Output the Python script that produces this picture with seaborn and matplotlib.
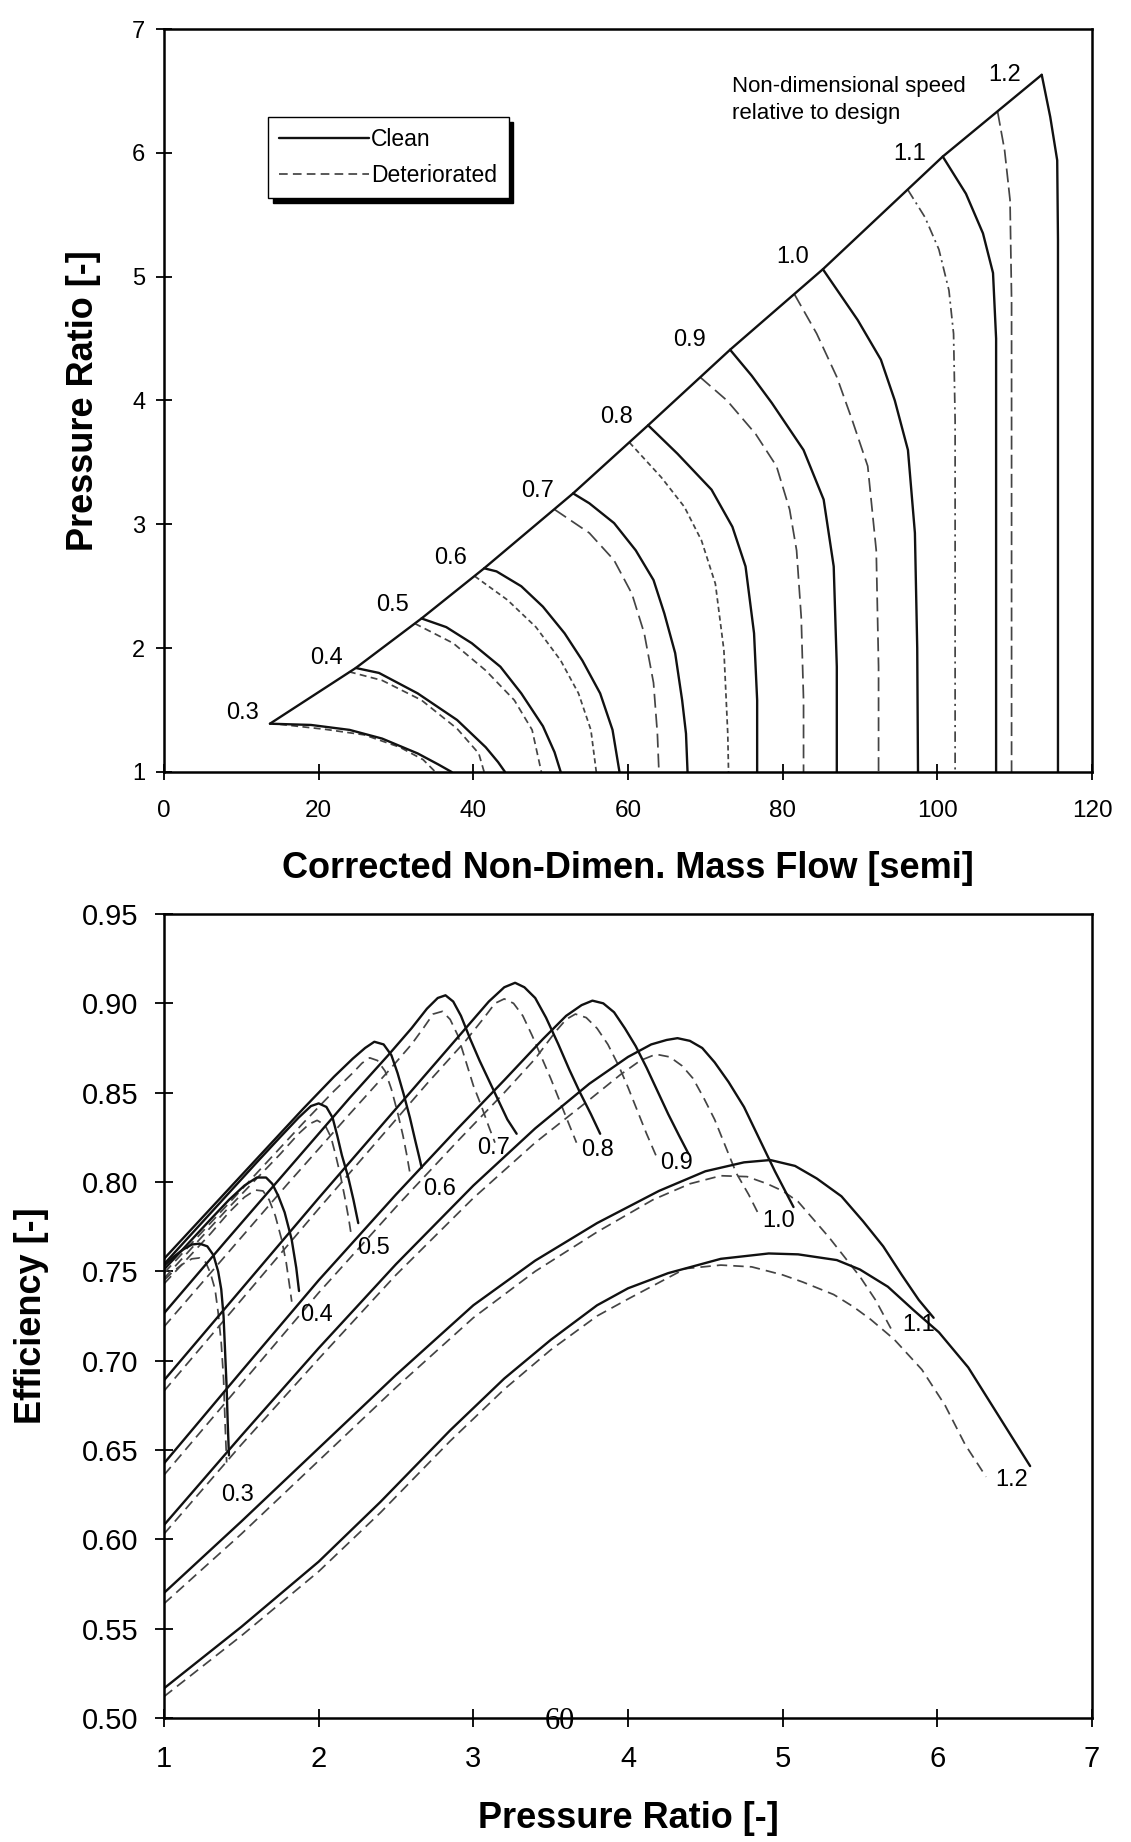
import matplotlib
matplotlib.use("Agg")
import matplotlib.pyplot as plt
from matplotlib.lines import Line2D
from matplotlib.ticker import FormatStrFormatter
import numpy as np
import pandas as pd
import seaborn as sns

# ---------------------------------------------------------------------------
# Speed lines (non-dimensional speed relative to design)
# ---------------------------------------------------------------------------
speeds = ["0.3", "0.4", "0.5", "0.6", "0.7", "0.8", "0.9", "1.0", "1.1", "1.2"]

# Compressor map: (corrected non-dimensional mass flow, pressure ratio)
map_clean_03 = [(13.7, 1.39), (19.0, 1.38), (24.0, 1.34), (28.2, 1.27), (32.8, 1.15), (35.5, 1.06), (37.2, 1.0)]
map_clean_04 = [(24.8, 1.84), (27.8, 1.80), (32.8, 1.635), (37.9, 1.42), (41.6, 1.20), (43.2, 1.08), (44.1, 1.0)]
map_clean_05 = [(33.3, 2.24), (36.5, 2.17), (39.8, 2.04), (43.5, 1.85), (46.2, 1.635), (49.0, 1.37), (50.5, 1.16), (51.3, 1.0)]
map_clean_06 = [(41.4, 2.645), (43.0, 2.62), (46.2, 2.50), (49.0, 2.335), (51.8, 2.12), (54.1, 1.90), (56.4, 1.635), (58.0, 1.34), (58.9, 1.0)]
map_clean_07 = [(52.9, 3.25), (55.0, 3.17), (58.2, 3.01), (61.0, 2.79), (63.3, 2.55), (64.7, 2.28), (66.1, 1.96), (67.0, 1.58), (67.5, 1.31), (67.7, 1.0)]
map_clean_08 = [(62.6, 3.80), (66.4, 3.57), (70.8, 3.28), (73.5, 2.98), (75.2, 2.66), (76.3, 2.12), (76.7, 1.58), (76.7, 1.0)]
map_clean_09 = [(73.2, 4.41), (76.0, 4.20), (78.6, 3.98), (82.7, 3.60), (85.3, 3.20), (86.6, 2.66), (87.0, 1.85), (87.0, 1.0)]
map_clean_10 = [(85.2, 5.06), (89.7, 4.65), (92.7, 4.33), (94.5, 4.0), (96.2, 3.6), (97.1, 2.93), (97.4, 2.0), (97.5, 1.0)]
map_clean_11 = [(100.7, 5.97), (103.7, 5.67), (105.9, 5.35), (107.2, 5.03), (107.6, 4.5), (107.6, 1.0)]
map_clean_12 = [(113.5, 6.63), (114.6, 6.29), (115.5, 5.94), (115.6, 5.3), (115.6, 1.0)]

map_det_03 = [(15.0, 1.385), (20.8, 1.345), (25.9, 1.30), (30.5, 1.20), (33.5, 1.10), (35.1, 1.0)]
map_det_04 = [(23.9, 1.81), (28.2, 1.74), (33.3, 1.58), (37.9, 1.35), (40.7, 1.15), (41.4, 1.0)]
map_det_05 = [(32.4, 2.20), (37.4, 2.04), (41.6, 1.82), (45.3, 1.58), (47.6, 1.34), (48.8, 1.0)]
map_det_06 = [(40.2, 2.58), (44.4, 2.39), (48.1, 2.17), (51.3, 1.90), (53.6, 1.635), (55.2, 1.34), (55.9, 1.0)]
map_det_07 = [(50.5, 3.12), (55.0, 2.93), (58.2, 2.71), (60.5, 2.44), (62.1, 2.12), (63.3, 1.72), (63.8, 1.31), (64.0, 1.0)]
map_det_08 = [(60.2, 3.66), (64.3, 3.38), (67.3, 3.14), (69.5, 2.87), (71.3, 2.52), (72.4, 1.985), (72.9, 1.31), (73.0, 1.0)]
map_det_09 = [(69.3, 4.19), (72.8, 4.0), (76.5, 3.73), (79.2, 3.47), (80.9, 3.12), (81.8, 2.79), (82.4, 2.25), (82.7, 1.58), (82.7, 1.0)]
map_det_10 = [(81.5, 4.86), (84.4, 4.54), (87.0, 4.19), (89.0, 3.84), (91.0, 3.47), (92.1, 2.79), (92.4, 1.85), (92.4, 1.0)]
map_det_11 = [(96.2, 5.70), (98.4, 5.48), (100.2, 5.22), (101.5, 4.89), (102.1, 4.54), (102.3, 3.84), (102.3, 1.0)]
map_det_12 = [(107.8, 6.33), (108.7, 6.02), (109.4, 5.62), (109.6, 4.81), (109.6, 1.0)]

# Efficiency characteristic: (pressure ratio, isentropic efficiency)
eff_clean_03 = [(1.00, 0.753), (1.06, 0.758), (1.12, 0.762), (1.18, 0.765), (1.23, 0.7655), (1.28, 0.764), (1.32, 0.759),
                (1.35, 0.750), (1.37, 0.740), (1.385, 0.725), (1.395, 0.705), (1.405, 0.685), (1.412, 0.665), (1.42, 0.647)]
eff_clean_04 = [(1.00, 0.751), (1.15, 0.765), (1.30, 0.779), (1.42, 0.790), (1.52, 0.798), (1.60, 0.8025), (1.66, 0.8025),
                (1.70, 0.799), (1.74, 0.792), (1.78, 0.783), (1.825, 0.768), (1.855, 0.752), (1.873, 0.739)]
eff_clean_05 = [(1.00, 0.754), (1.20, 0.773), (1.40, 0.792), (1.60, 0.811), (1.75, 0.825), (1.87, 0.836), (1.95, 0.8425),
                (2.00, 0.844), (2.05, 0.842), (2.09, 0.836), (2.12, 0.826), (2.15, 0.815), (2.19, 0.803), (2.225, 0.790), (2.256, 0.777)]
eff_clean_06 = [(1.00, 0.757), (1.30, 0.785), (1.60, 0.813), (1.90, 0.841), (2.10, 0.859), (2.22, 0.869), (2.30, 0.875),
                (2.36, 0.8785), (2.42, 0.877), (2.47, 0.871), (2.51, 0.861), (2.55, 0.849), (2.59, 0.836), (2.625, 0.823),
                (2.65, 0.814), (2.666, 0.808)]
eff_clean_07 = [(1.00, 0.7265), (1.40, 0.767), (1.80, 0.807), (2.20, 0.847), (2.45, 0.871), (2.60, 0.886), (2.70, 0.897),
                (2.77, 0.903), (2.82, 0.9045), (2.87, 0.901), (2.92, 0.893), (2.98, 0.880), (3.04, 0.868), (3.10, 0.857),
                (3.16, 0.846), (3.22, 0.835), (3.28, 0.827)]
eff_clean_08 = [(1.00, 0.689), (1.50, 0.740), (2.00, 0.791), (2.40, 0.831), (2.70, 0.861), (2.95, 0.886), (3.10, 0.901),
                (3.20, 0.909), (3.27, 0.9115), (3.33, 0.909), (3.40, 0.903), (3.47, 0.892), (3.55, 0.877), (3.62, 0.863),
                (3.69, 0.850), (3.76, 0.838), (3.82, 0.827)]
eff_clean_09 = [(1.00, 0.6425), (1.50, 0.694), (2.00, 0.745), (2.50, 0.793), (2.90, 0.830), (3.20, 0.857), (3.45, 0.880),
                (3.60, 0.893), (3.70, 0.899), (3.77, 0.9015), (3.84, 0.900), (3.91, 0.895), (3.98, 0.886), (4.05, 0.876),
                (4.12, 0.864), (4.19, 0.851), (4.26, 0.838), (4.33, 0.826), (4.39, 0.816)]
eff_clean_10 = [(1.00, 0.608), (1.50, 0.658), (2.00, 0.707), (2.50, 0.754), (3.00, 0.798), (3.40, 0.830), (3.75, 0.855),
                (4.00, 0.870), (4.15, 0.877), (4.25, 0.8795), (4.32, 0.8805), (4.40, 0.879), (4.48, 0.875), (4.56, 0.867),
                (4.65, 0.856), (4.75, 0.842), (4.85, 0.824), (4.95, 0.806), (5.07, 0.786)]
eff_clean_11 = [(1.00, 0.570), (1.50, 0.610), (2.00, 0.651), (2.50, 0.692), (3.00, 0.731), (3.40, 0.756), (3.80, 0.777),
                (4.20, 0.795), (4.50, 0.806), (4.75, 0.811), (4.92, 0.8123), (5.08, 0.809), (5.22, 0.802), (5.38, 0.792),
                (5.52, 0.778), (5.65, 0.764), (5.77, 0.748), (5.88, 0.734), (5.976, 0.724)]
eff_clean_12 = [(1.00, 0.5166), (1.50, 0.551), (2.00, 0.5875), (2.40, 0.621), (2.85, 0.661), (3.20, 0.690), (3.50, 0.7116),
                (3.80, 0.731), (4.00, 0.7405), (4.26, 0.749), (4.60, 0.757), (4.91, 0.760), (5.10, 0.7595), (5.35, 0.7563),
                (5.50, 0.751), (5.68, 0.7414), (5.85, 0.728), (6.01, 0.7159), (6.20, 0.6962), (6.40, 0.6686), (6.60, 0.641)]

eff_det_03 = [(1.00, 0.745), (1.06, 0.750), (1.12, 0.754), (1.18, 0.757), (1.23, 0.7575), (1.27, 0.755), (1.30, 0.749),
              (1.33, 0.740), (1.35, 0.727), (1.37, 0.71), (1.385, 0.69), (1.395, 0.665), (1.405, 0.643)]
eff_det_04 = [(1.00, 0.743), (1.15, 0.757), (1.30, 0.771), (1.42, 0.783), (1.52, 0.7915), (1.59, 0.7955), (1.64, 0.795),
              (1.68, 0.790), (1.72, 0.781), (1.76, 0.768), (1.79, 0.755), (1.81, 0.743), (1.826, 0.733)]
eff_det_05 = [(1.00, 0.746), (1.20, 0.765), (1.40, 0.784), (1.60, 0.802), (1.75, 0.8155), (1.87, 0.827), (1.94, 0.8325),
              (1.99, 0.8345), (2.04, 0.832), (2.08, 0.825), (2.11, 0.815), (2.14, 0.804), (2.17, 0.791), (2.195, 0.779), (2.213, 0.769)]
eff_det_06 = [(1.00, 0.749), (1.30, 0.777), (1.60, 0.805), (1.90, 0.833), (2.10, 0.851), (2.22, 0.861), (2.28, 0.8665),
              (2.33, 0.8695), (2.38, 0.868), (2.43, 0.862), (2.47, 0.852), (2.51, 0.839), (2.545, 0.826), (2.57, 0.815), (2.59, 0.805)]
eff_det_07 = [(1.00, 0.719), (1.40, 0.759), (1.80, 0.799), (2.20, 0.838), (2.45, 0.862), (2.60, 0.877), (2.68, 0.8865),
              (2.74, 0.894), (2.80, 0.8955), (2.85, 0.891), (2.90, 0.882), (2.95, 0.868), (3.00, 0.854), (3.05, 0.843),
              (3.10, 0.831), (3.14, 0.822)]
eff_det_08 = [(1.00, 0.683), (1.50, 0.734), (2.00, 0.785), (2.40, 0.825), (2.70, 0.855), (2.95, 0.879), (3.07, 0.892),
              (3.14, 0.900), (3.20, 0.9025), (3.26, 0.900), (3.32, 0.893), (3.38, 0.882), (3.44, 0.870), (3.50, 0.858),
              (3.56, 0.845), (3.62, 0.832), (3.667, 0.822)]
eff_det_09 = [(1.00, 0.636), (1.50, 0.687), (2.00, 0.738), (2.50, 0.786), (2.90, 0.823), (3.20, 0.850), (3.40, 0.869),
              (3.53, 0.884), (3.60, 0.891), (3.66, 0.894), (3.73, 0.892), (3.80, 0.886), (3.87, 0.877), (3.94, 0.865),
              (4.00, 0.853), (4.06, 0.840), (4.12, 0.827), (4.185, 0.814)]
eff_det_10 = [(1.00, 0.603), (1.50, 0.653), (2.00, 0.701), (2.50, 0.748), (3.00, 0.791), (3.40, 0.822), (3.75, 0.846),
              (3.95, 0.860), (4.08, 0.868), (4.18, 0.8715), (4.27, 0.870), (4.35, 0.865), (4.42, 0.858), (4.49, 0.847),
              (4.56, 0.835), (4.63, 0.820), (4.70, 0.805), (4.78, 0.793), (4.85, 0.781)]
eff_det_11 = [(1.00, 0.564), (1.50, 0.603), (2.00, 0.644), (2.50, 0.685), (3.00, 0.724), (3.40, 0.750), (3.80, 0.772),
              (4.16, 0.790), (4.40, 0.799), (4.60, 0.8035), (4.77, 0.803), (4.90, 0.799), (5.00, 0.795), (5.10, 0.789),
              (5.20, 0.779), (5.30, 0.769), (5.40, 0.758), (5.50, 0.747), (5.60, 0.734), (5.70, 0.718)]
eff_det_12 = [(1.00, 0.512), (1.50, 0.546), (2.00, 0.582), (2.40, 0.615), (2.85, 0.655), (3.20, 0.684), (3.50, 0.706),
              (3.80, 0.725), (4.00, 0.7345), (4.37, 0.7515), (4.60, 0.7535), (4.80, 0.7525), (5.00, 0.748), (5.13, 0.744),
              (5.33, 0.737), (5.46, 0.730), (5.57, 0.723), (5.72, 0.712), (5.90, 0.695), (6.05, 0.675), (6.18, 0.653), (6.315, 0.635)]

# Speed label anchors
map_label_pos = [(10.2, 1.474), (21.05, 1.918), (29.6, 2.349), (37.1, 2.728), (48.3, 3.272),
                 (58.45, 3.869), (68.0, 4.489), (81.3, 5.161), (96.4, 5.991), (108.7, 6.629)]
eff_label_pos = [(1.474, 0.6248), (1.987, 0.7255), (2.353, 0.763), (2.78, 0.796), (3.129, 0.819),
                 (3.80, 0.818), (4.313, 0.8105), (4.975, 0.778), (5.876, 0.7198), (6.479, 0.633)]

flow_ticks = [0, 20, 40, 60, 80, 100, 120]
pr_ticks = [1, 2, 3, 4, 5, 6, 7]
eff_ticks = [0.50, 0.55, 0.60, 0.65, 0.70, 0.75, 0.80, 0.85, 0.90, 0.95]

map_clean = dict(zip(speeds, [map_clean_03, map_clean_04, map_clean_05, map_clean_06, map_clean_07,
                              map_clean_08, map_clean_09, map_clean_10, map_clean_11, map_clean_12]))
map_det = dict(zip(speeds, [map_det_03, map_det_04, map_det_05, map_det_06, map_det_07,
                            map_det_08, map_det_09, map_det_10, map_det_11, map_det_12]))
eff_clean = dict(zip(speeds, [eff_clean_03, eff_clean_04, eff_clean_05, eff_clean_06, eff_clean_07,
                              eff_clean_08, eff_clean_09, eff_clean_10, eff_clean_11, eff_clean_12]))
eff_det = dict(zip(speeds, [eff_det_03, eff_det_04, eff_det_05, eff_det_06, eff_det_07,
                            eff_det_08, eff_det_09, eff_det_10, eff_det_11, eff_det_12]))

# ---------------------------------------------------------------------------
# Styling
# ---------------------------------------------------------------------------
CLEAN = "#111111"
DET = "#444444"
LW_CLEAN = 1.7
LW_DET = 1.25
top_dashes = {"0.3": (4, 2.5), "0.4": (4, 2.5), "0.5": (4, 2.5), "0.6": (3, 2), "0.7": (8, 3.5),
              "0.8": (3, 2), "0.9": (8, 3.5), "1.0": (8, 3.5), "1.1": (6, 2.5, 1.2, 2.5), "1.2": (8, 3)}
bottom_dashes = {s: (6, 3.5) for s in speeds}

sns.set_theme(style="white")
plt.rcParams["font.family"] = ["Liberation Sans", "DejaVu Sans"]
plt.rcParams["text.color"] = "black"
plt.rcParams["axes.labelcolor"] = "black"
plt.rcParams["xtick.color"] = "black"
plt.rcParams["ytick.color"] = "black"


def long_form(lines, xname, yname):
    frames = []
    for spd, pts in lines.items():
        arr = np.asarray(pts, dtype=float)
        frames.append(pd.DataFrame({"speed": spd, "step": np.arange(len(arr)),
                                    xname: arr[:, 0], yname: arr[:, 1]}))
    return pd.concat(frames, ignore_index=True)


df_map_clean = long_form(map_clean, "flow", "pr")
df_map_det = long_form(map_det, "flow", "pr")
df_eff_clean = long_form(eff_clean, "pr", "eff")
df_eff_det = long_form(eff_det, "pr", "eff")
surge = pd.DataFrame({"flow": [pts[0][0] for pts in map_clean.values()],
                      "pr": [pts[0][1] for pts in map_clean.values()]})

W, H = 1131, 1842
fig = plt.figure(figsize=(W / 100, H / 100), dpi=100)
fig.patch.set_facecolor("white")
ax1 = fig.add_axes([164 / W, 1 - 772 / H, 928 / W, 743 / H])
ax2 = fig.add_axes([164 / W, 1 - 1718 / H, 928 / W, 804 / H])

# ---- compressor map -------------------------------------------------------
sns.lineplot(data=df_map_det, x="flow", y="pr", style="speed", dashes=top_dashes,
             color=DET, linewidth=LW_DET, estimator=None, sort=False, legend=False, ax=ax1)
sns.lineplot(data=df_map_clean, x="flow", y="pr", units="speed", color=CLEAN,
             linewidth=LW_CLEAN, estimator=None, sort=False, legend=False, ax=ax1)
sns.lineplot(data=surge, x="flow", y="pr", color=CLEAN, linewidth=LW_CLEAN,
             estimator=None, sort=False, legend=False, ax=ax1)

for spd, (lx, ly) in zip(speeds, map_label_pos):
    ax1.text(lx, ly, spd, fontsize=17, ha="center", va="center")
ax1.text(73.5, 6.427, "Non-dimensional speed\nrelative to design", fontsize=16,
         ha="left", va="center", linespacing=1.4)

ax1.set_xlim(0, 120)
ax1.set_ylim(1, 7)
ax1.set_xticks(flow_ticks)
ax1.set_yticks(pr_ticks)
ax1.set_xlabel("Corrected Non-Dimen. Mass Flow [semi]", fontsize=26, fontweight="bold", va="center")
ax1.set_ylabel("Pressure Ratio [-]", fontsize=26, fontweight="bold", va="center")
ax1.xaxis.set_label_coords(0.5, (772 - 869) / 743)
ax1.yaxis.set_label_coords((84 - 164) / 928, 0.5)
ax1.tick_params(direction="inout", length=11, width=1.3, color="black",
                bottom=True, left=True, top=False, right=False)
ax1.tick_params(axis="x", labelsize=17.5, pad=15)
ax1.tick_params(axis="y", labelsize=17, pad=8)

handles = [Line2D([], [], color=CLEAN, lw=LW_CLEAN),
           Line2D([], [], color=DET, lw=LW_DET, dashes=(5, 3))]
leg = ax1.legend(handles, ["Clean", "Deteriorated"], loc="upper left",
                 bbox_to_anchor=(0.112, 0.8816), borderaxespad=0, frameon=True,
                 fancybox=False, fontsize=16.5, handlelength=3.9, handletextpad=0.1,
                 borderpad=0.5, labelspacing=0.55,
                 shadow={"ox": 3.5, "oy": -3.5, "facecolor": "black", "edgecolor": "black", "alpha": 1})
leg.get_frame().set_edgecolor("black")
leg.get_frame().set_linewidth(1.0)
leg.get_frame().set_facecolor("white")
leg.get_frame().set_alpha(1)

# ---- efficiency characteristic -------------------------------------------
sns.lineplot(data=df_eff_det, x="pr", y="eff", style="speed", dashes=bottom_dashes,
             color=DET, linewidth=LW_DET, estimator=None, sort=False, legend=False, ax=ax2)
sns.lineplot(data=df_eff_clean, x="pr", y="eff", units="speed", color=CLEAN,
             linewidth=LW_CLEAN, estimator=None, sort=False, legend=False, ax=ax2)

for spd, (lx, ly) in zip(speeds, eff_label_pos):
    ax2.text(lx, ly, spd, fontsize=17, ha="center", va="center")

ax2.set_xlim(1, 7)
ax2.set_ylim(0.50, 0.95)
ax2.set_xticks(pr_ticks)
ax2.set_yticks(eff_ticks)
ax2.yaxis.set_major_formatter(FormatStrFormatter("%.2f"))
ax2.set_xlabel("Pressure Ratio [-]", fontsize=26, fontweight="bold", va="center")
ax2.set_ylabel("Efficiency [-]", fontsize=26, fontweight="bold", va="center")
ax2.xaxis.set_label_coords(0.5, (1718 - 1818) / 804)
ax2.yaxis.set_label_coords((31.5 - 164) / 928, 0.5)
ax2.tick_params(direction="inout", length=13, width=1.3, color="black",
                bottom=True, left=True, top=False, right=False)
ax2.tick_params(axis="x", labelsize=21, pad=13)
ax2.tick_params(axis="y", labelsize=21, pad=12)

for ax in (ax1, ax2):
    ax.set_facecolor("white")
    for sp in ax.spines.values():
        sp.set_visible(True)
        sp.set_color("black")
        sp.set_linewidth(1.8)

# page number
fig.text(560 / W, 1 - 1721 / H, "60", fontsize=22, ha="center", va="center",
         family=["Liberation Serif", "DejaVu Serif"])

fig.savefig("out.png", dpi=100, facecolor="white")
